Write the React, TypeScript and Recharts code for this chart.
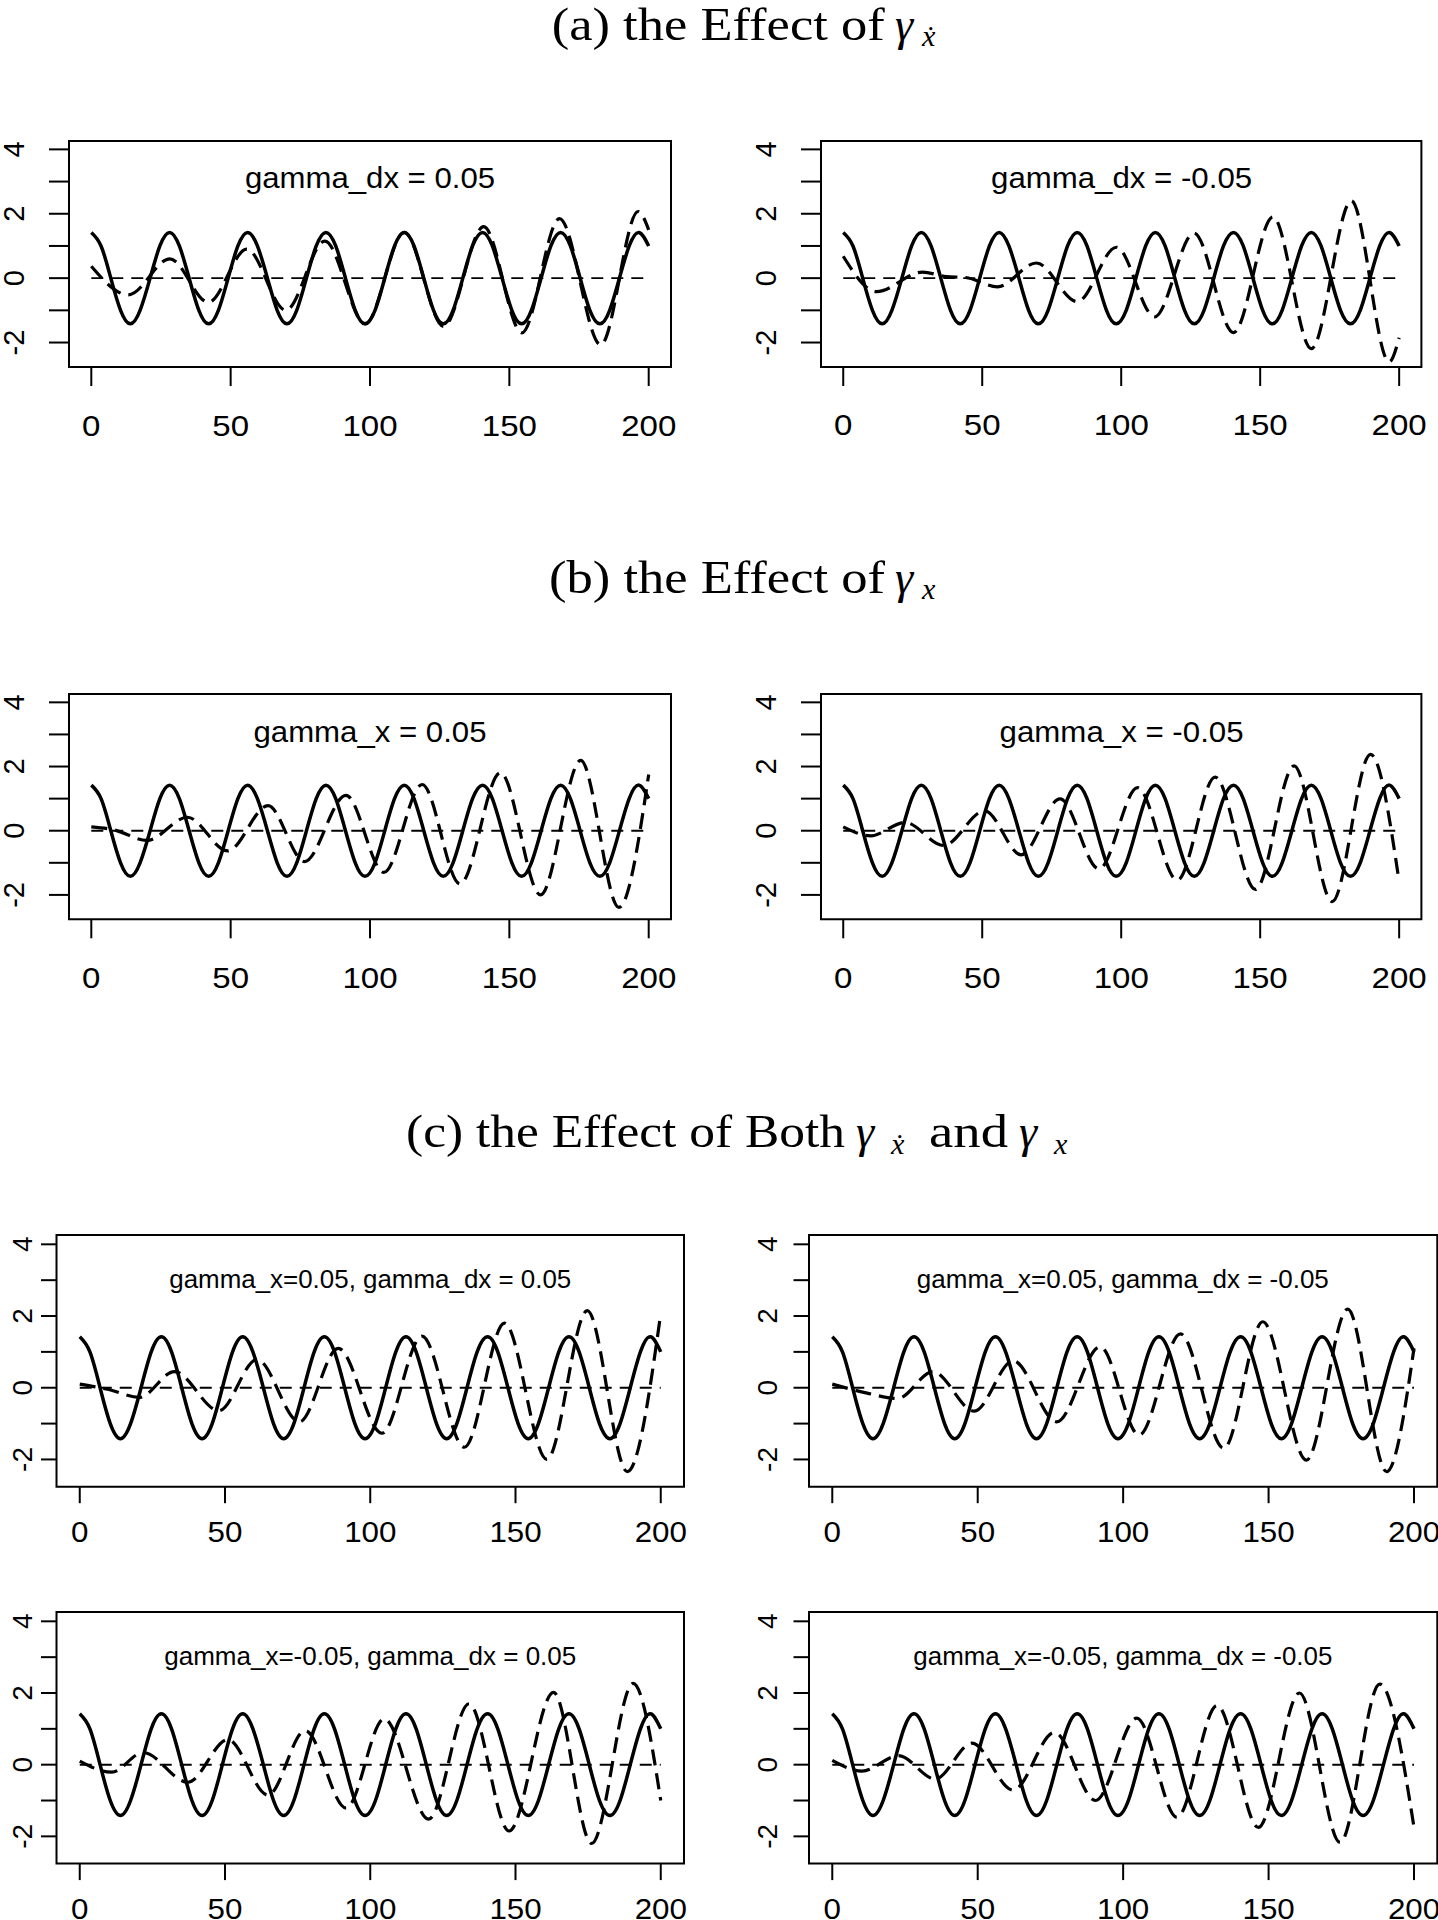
import React from 'react';
import { LineChart, Line, XAxis, YAxis, ReferenceArea } from 'recharts';

// ---------- data ----------
const xTicks = [0, 50, 100, 150, 200];
const yTicks = [-2, -1, 0, 1, 2, 3, 4];

const zeroT = [0, 200];
const zeroY = [0, 0];

const solidT = [0, 3.5, 7.0, 10.5, 14.0, 17.5, 21.1, 24.6, 28.1, 31.6, 35.1, 38.6, 42.1, 45.6, 49.1, 52.6,
  56.1, 59.6, 63.2, 66.7, 70.2, 73.7, 77.2, 80.7, 84.2, 87.7, 91.2, 94.7, 98.2, 101.8, 105.3, 108.8,
  112.3, 115.8, 119.3, 122.8, 126.3, 129.8, 133.3, 136.8, 140.4, 143.9, 147.4, 150.9, 154.4, 157.9,
  161.4, 164.9, 168.4, 171.9, 175.4, 178.9, 182.5, 186.0, 189.5, 193.0, 196.5, 200.0];
const solidY = [1.42, 1.0, 0, -1.0, -1.42, -1.0, 0, 1.0, 1.42, 1.0, 0, -1.0, -1.42, -1.0, 0, 1.0,
  1.42, 1.0, 0, -1.0, -1.42, -1.0, 0, 1.0, 1.42, 1.0, 0, -1.0, -1.42, -1.0, 0, 1.0,
  1.42, 1.0, 0, -1.0, -1.42, -1.0, 0, 1.0, 1.42, 1.0, 0, -1.0, -1.42, -1.0,
  0, 1.0, 1.42, 1.0, 0, -1.0, -1.42, -1.0, 0, 1.0, 1.42, 1.0];

const dashA1T = [0, 13.3, 28.2, 42.0, 55.8, 69.8, 83.8, 98.3, 112.3, 126.4, 140.8, 154.5, 168.0, 182.8, 196.2, 200];
const dashA1Y = [0.37, -0.52, 0.60, -0.75, 0.90, -1.00, 1.15, -1.42, 1.42, -1.50, 1.60, -1.70, 1.85, -2.07, 2.07, 1.50];

const dashA2T = [0, 12.0, 28.5, 37.0, 44.0, 55.5, 69.5, 84.2, 98.3, 112.0, 126.2, 140.4, 154.6, 168.4, 182.8, 196.4, 200];
const dashA2Y = [0.68, -0.42, 0.19, 0.05, 0.02, -0.27, 0.47, -0.73, 0.96, -1.20, 1.40, -1.69, 1.90, -2.19, 2.40, -2.60, -1.85];

const dashB1T = [0, 8.0, 20.0, 34.5, 48.9, 63.4, 76.5, 91.4, 105.0, 118.7, 132.3, 146.8, 161.2, 175.6, 189.3, 200];
const dashB1Y = [0.12, 0.03, -0.30, 0.42, -0.63, 0.78, -0.96, 1.10, -1.30, 1.44, -1.66, 1.81, -2.00, 2.19, -2.39, 1.75];

const dashB2T = [0, 9.9, 22.2, 36.1, 50.9, 64.0, 78.0, 92.0, 105.9, 120.2, 133.8, 148.3, 162.2, 175.9, 189.7, 200];
const dashB2Y = [0.12, -0.16, 0.26, -0.46, 0.62, -0.75, 0.99, -1.19, 1.34, -1.54, 1.67, -1.83, 2.02, -2.21, 2.38, -1.59];

const dashC1T = [0, 10.0, 20.5, 32.6, 47.9, 61.0, 75.6, 89.0, 104.0, 117.8, 132.4, 146.2, 160.8, 174.7, 188.5, 200];
const dashC1Y = [0.10, -0.05, -0.27, 0.45, -0.64, 0.79, -0.95, 1.10, -1.27, 1.44, -1.66, 1.80, -2.00, 2.15, -2.34, 2.07];

const dashC2T = [0, 12.0, 22.5, 34.6, 48.8, 62.2, 77.2, 92.1, 105.5, 119.7, 134.6, 148.0, 163.0, 177.2, 190.6, 200];
const dashC2Y = [0.10, -0.15, -0.30, 0.45, -0.65, 0.75, -0.95, 1.14, -1.32, 1.50, -1.69, 1.84, -2.02, 2.19, -2.34, 1.10];

const dashC3T = [0, 11.0, 21.8, 37.2, 51.0, 64.8, 77.6, 91.7, 104.8, 120.1, 134.0, 147.8, 163.1, 176.2, 190.5, 200];
const dashC3Y = [0.10, -0.21, 0.34, -0.49, 0.70, -0.85, 0.95, -1.21, 1.28, -1.52, 1.70, -1.85, 2.02, -2.20, 2.27, -1.00];

const dashC4T = [0, 10.2, 22.8, 35.4, 48.0, 62.2, 76.4, 90.5, 104.7, 118.5, 132.3, 146.5, 160.6, 174.6, 188.2, 200];
const dashC4Y = [0.12, -0.18, 0.25, -0.40, 0.60, -0.71, 0.90, -1.00, 1.30, -1.47, 1.65, -1.75, 2.00, -2.17, 2.25, -1.75];

const panelLabels = [
  'gamma_dx = 0.05', 'gamma_dx = -0.05',
  'gamma_x = 0.05', 'gamma_x = -0.05',
  'gamma_x=0.05, gamma_dx = 0.05', 'gamma_x=0.05, gamma_dx = -0.05',
  'gamma_x=-0.05, gamma_dx = 0.05', 'gamma_x=-0.05, gamma_dx = -0.05',
];

// ---------- helpers ----------
const toPts = (t: number[], y: number[]) => t.map((v, i) => ({ x: v, y: y[i] }));
const solidPts = toPts(solidT, solidY);
const zeroPts = toPts(zeroT, zeroY);

const SANS = "'Liberation Sans', Arial, Helvetica, sans-serif";
const SERIF = "'Liberation Serif', 'DejaVu Serif', 'Times New Roman', serif";

const X_DOMAIN: [number, number] = [-8, 208];
const Y_DOMAIN: [number, number] = [-2.76, 4.26];

type Box = { l: number; r: number; t: number; b: number };
type Style = { xTick: number; yTick: number; xBase: number; xFs: number; xSx: number; yFs: number; labelFs: number; labelBase: number };

const styleAB: Style = { xTick: 19, yTick: 20, xBase: 68.5, xFs: 29, xSx: 1.14, yFs: 29, labelFs: 30, labelBase: 47.6 };
const styleC: Style = { xTick: 16.5, yTick: 15.5, xBase: 55.5, xFs: 29, xSx: 1.08, yFs: 28, labelFs: 26, labelBase: 53.3 };

const panels = [
  { box: { l: 69, r: 671, t: 140.7, b: 366.7 }, t: dashA1T, y: dashA1Y, st: styleAB, yOff: 55, lw: 250 },
  { box: { l: 821.4, r: 1421.8, t: 140.7, b: 366.7 }, t: dashA2T, y: dashA2Y, st: styleAB, yOff: 55, lw: 261 },
  { box: { l: 69, r: 671, t: 694, b: 919.3 }, t: dashB1T, y: dashB1Y, st: styleAB, yOff: 55, lw: 233 },
  { box: { l: 821.4, r: 1421.8, t: 694, b: 919.3 }, t: dashB2T, y: dashB2Y, st: styleAB, yOff: 55, lw: 244 },
  { box: { l: 56.5, r: 684, t: 1235, b: 1486.7 }, t: dashC1T, y: dashC1Y, st: styleC, yOff: 35, lw: 402 },
  { box: { l: 808.7, r: 1437, t: 1235, b: 1486.7 }, t: dashC2T, y: dashC2Y, st: styleC, yOff: 42, lw: 412 },
  { box: { l: 56.5, r: 684, t: 1611.7, b: 1863.3 }, t: dashC3T, y: dashC3Y, st: styleC, yOff: 35, lw: 412 },
  { box: { l: 808.7, r: 1437, t: 1611.7, b: 1863.3 }, t: dashC4T, y: dashC4Y, st: styleC, yOff: 42, lw: 419 },
];

function Panel({ box, pts, st, yOff }: { box: Box; pts: { x: number; y: number }[]; st: Style; yOff: number }) {
  const cl = Math.max(0, box.l - 78);
  const ct = box.t - 10;
  const cr = Math.min(1438, box.r + 40);
  const cb = box.b + 82;
  const w = cr - cl;
  const h = cb - ct;

  const renderXTick = (p: any) => (
    <text
      transform={`translate(${p.x},${p.y + st.xBase - st.xTick}) scale(${st.xSx},1)`}
      textAnchor="middle"
      fontFamily={SANS}
      fontSize={st.xFs}
      fill="#000"
    >
      {p.payload.value}
    </text>
  );
  const renderYTick = (p: any) => {
    const v = p.payload.value;
    if (v % 2 !== 0) return <g />;
    return (
      <text
        transform={`translate(${box.l - cl - yOff},${p.y}) rotate(-90)`}
        textAnchor="middle"
        dy="0.36em"
        fontFamily={SANS}
        fontSize={st.yFs}
        fill="#000"
      >
        {String(v)}
      </text>
    );
  };

  return (
    <div style={{ position: 'absolute', left: cl, top: ct }}>
      <LineChart width={w} height={h} margin={{ top: box.t - ct, right: cr - box.r, bottom: 0, left: 0 }} style={{ overflow: 'visible' }}>
        <XAxis
          type="number"
          dataKey="x"
          domain={X_DOMAIN}
          ticks={xTicks}
          interval={0}
          allowDataOverflow
          axisLine={false}
          stroke="#000"
          tickLine={{ stroke: '#000', strokeWidth: 2 }}
          tickSize={st.xTick}
          tickMargin={0}
          height={cb - box.b}
          tick={renderXTick}
        />
        <YAxis
          type="number"
          dataKey="y"
          domain={Y_DOMAIN}
          ticks={yTicks}
          interval={0}
          allowDataOverflow
          axisLine={false}
          stroke="#000"
          tickLine={{ stroke: '#000', strokeWidth: 2 }}
          tickSize={st.yTick}
          tickMargin={0}
          width={box.l - cl}
          tick={renderYTick}
        />
        <Line data={zeroPts} dataKey="y" type="linear" stroke="#000" strokeWidth={1.9} strokeDasharray="12 8" dot={false} activeDot={false} isAnimationActive={false} />
        <Line data={solidPts} dataKey="y" type="natural" stroke="#000" strokeWidth={3.5} dot={false} activeDot={false} isAnimationActive={false} />
        <Line data={pts} dataKey="y" type="monotoneX" stroke="#000" strokeWidth={3.2} strokeDasharray="16 8" dot={false} activeDot={false} isAnimationActive={false} />
        <ReferenceArea x1={X_DOMAIN[0]} x2={X_DOMAIN[1]} y1={Y_DOMAIN[0]} y2={Y_DOMAIN[1]} fill="none" fillOpacity={0} stroke="#000" strokeWidth={2} ifOverflow="visible" />
      </LineChart>
    </div>
  );
}

function Titles() {
  const ts = { fontFamily: SERIF, fill: '#000' } as const;
  return (
    <svg width={1438} height={1920} style={{ position: 'absolute', left: 0, top: 0, pointerEvents: 'none' }}>
      {/* (a) */}
      <text x={551.7} y={39.5} fontSize={46} textLength={333} lengthAdjust="spacingAndGlyphs" {...ts}>(a) the Effect of</text>
      <text x={895} y={39.5} fontSize={46} fontStyle="italic" {...ts}>γ</text>
      <text x={922} y={46} fontSize={30} fontStyle="italic" {...ts}>ẋ</text>
      {/* (b) */}
      <text x={549} y={592.8} fontSize={46} textLength={336} lengthAdjust="spacingAndGlyphs" {...ts}>(b) the Effect of</text>
      <text x={895} y={592.8} fontSize={46} fontStyle="italic" {...ts}>γ</text>
      <text x={922} y={599.3} fontSize={30} fontStyle="italic" {...ts}>x</text>
      {/* (c) */}
      <text x={406} y={1147} fontSize={46} textLength={439} lengthAdjust="spacingAndGlyphs" {...ts}>(c) the Effect of Both</text>
      <text x={856} y={1147} fontSize={46} fontStyle="italic" {...ts}>γ</text>
      <text x={891} y={1153.5} fontSize={30} fontStyle="italic" {...ts}>ẋ</text>
      <text x={929} y={1147} fontSize={46} textLength={79} lengthAdjust="spacingAndGlyphs" {...ts}>and</text>
      <text x={1019} y={1147} fontSize={46} fontStyle="italic" {...ts}>γ</text>
      <text x={1054} y={1153.5} fontSize={30} fontStyle="italic" {...ts}>x</text>
      {/* panel labels */}
      {panels.map((p, i) => {
        const cx = (p.box.l + p.box.r) / 2;
        return (
          <text
            key={i}
            x={cx - p.lw / 2}
            y={p.box.t + p.st.labelBase}
            fontFamily={SANS}
            fontSize={p.st.labelFs}
            textLength={p.lw}
            lengthAdjust="spacingAndGlyphs"
            fill="#000"
          >
            {panelLabels[i]}
          </text>
        );
      })}
    </svg>
  );
}

export default function App() {
  return (
    <div style={{ position: 'absolute', left: 0, top: 0, width: 1438, height: 1920, overflow: 'hidden', background: '#fff' }}>
      {panels.map((p, i) => (
        <Panel key={i} box={p.box} pts={toPts(p.t, p.y)} st={p.st} yOff={p.yOff} />
      ))}
      <Titles />
    </div>
  );
}
